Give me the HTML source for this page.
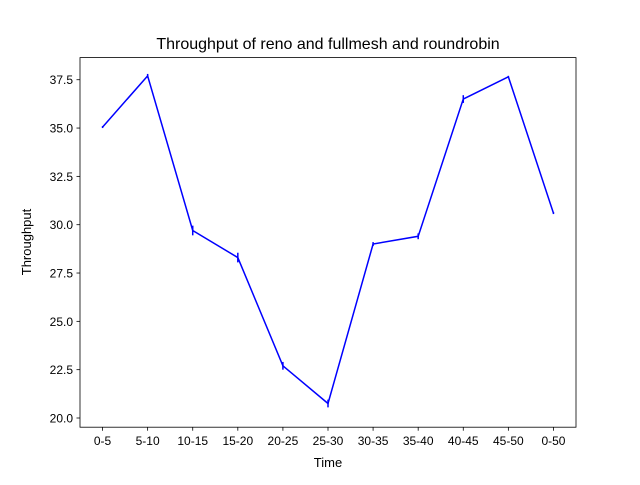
<!DOCTYPE html>
<html><head><meta charset="utf-8"><style>
body{margin:0;background:#fff;}
svg{font-family:"Liberation Sans","DejaVu Sans",sans-serif;}
</style></head><body>
<svg id="chart" width="640" height="480" viewBox="0 0 640 480" xmlns="http://www.w3.org/2000/svg">
<rect width="640" height="480" fill="#fff"/>
<text x="328" y="49" font-size="16" text-anchor="middle">Throughput of reno and fullmesh and roundrobin</text>
<g id="ticks"></g>
<g id="series"></g>
<rect x="80" y="57.6" width="496" height="369.6" fill="none" stroke="#000" stroke-width="0.8"/>
<text x="328" y="467" font-size="13" text-anchor="middle">Time</text>
<text x="31" y="242" font-size="13" text-anchor="middle" transform="rotate(-90 31 242)">Throughput</text>
</svg>
<script>
const categories=["0-5","5-10","10-15","15-20","20-25","25-30","30-35","35-40","40-45","45-50","0-50"];
const values=[35.05,37.7,29.7,28.3,22.7,20.75,29.0,29.4,36.5,37.65,30.6];
const errors=[0.05,0.1,0.25,0.25,0.2,0.2,0.1,0.15,0.2,0.05,0.05];
const yTicks=[20.0,22.5,25.0,27.5,30.0,32.5,35.0,37.5];
const NS="http://www.w3.org/2000/svg";
function xs(i){return 80+(i+0.5)*496/11;}
function ys(v){return 418-(v-20)*19.33;}
const tg=document.getElementById('ticks'),sg=document.getElementById('series');
function mk(t,a,p){const e=document.createElementNS(NS,t);for(const k in a)e.setAttribute(k,a[k]);p.appendChild(e);return e;}
yTicks.forEach(v=>{const y=ys(v);
 const l=mk('line',{x1:76.5,x2:80,y1:y,y2:y,stroke:'#000','stroke-width':0.8},tg);
 
 
 const t=mk('text',{x:73,y:y+4.5,'font-size':12,'text-anchor':'end'},tg);t.textContent=v.toFixed(1);
 
 });
categories.forEach((c,i)=>{const x=xs(i);
 const l=mk('line',{x1:x,x2:x,y1:427.2,y2:430.7,stroke:'#000','stroke-width':0.8},tg);
 
 
 const t=mk('text',{x:x,y:445,'font-size':12,'text-anchor':'middle'},tg);t.textContent=c;
 
 });
const pts=values.map((v,i)=>xs(i)+','+ys(v)).join(' ');
const pl=mk('polyline',{points:pts,fill:'none',stroke:'#0000ff','stroke-width':1.5},sg);


values.forEach((v,i)=>{const e=mk('line',{x1:xs(i),x2:xs(i),y1:ys(v-errors[i]),y2:ys(v+errors[i]),stroke:'#0000ff','stroke-width':1.5},sg);
 
 });
</script>
</body></html>
